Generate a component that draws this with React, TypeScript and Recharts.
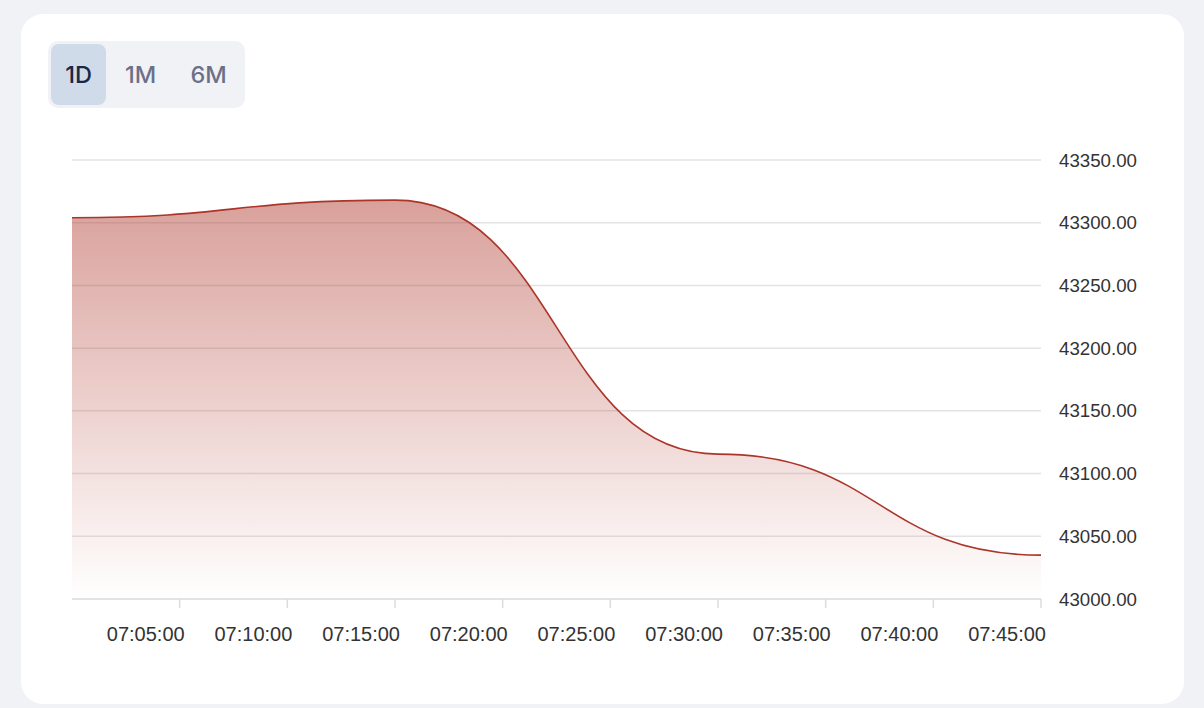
import { Area, AreaChart, CartesianGrid, XAxis, YAxis } from "recharts";

// minutes after 07:00
const times = [0, 15, 30, 45];
const prices = [43304, 43318, 43115.5, 43035];

const xTicks = [5, 10, 15, 20, 25, 30, 35, 40, 45];
const yTicks = [43000, 43050, 43100, 43150, 43200, 43250, 43300, 43350];

const ranges = ["1D", "1M", "6M"];

const data = times.map((t, i) => ({ t, price: prices[i] }));

const fmtTime = (m: number) => {
  const h = 7 + Math.floor(m / 60);
  const mm = m % 60;
  return `${String(h).padStart(2, "0")}:${String(mm).padStart(2, "0")}:00`;
};

export default function App() {
  return (
    <div
      style={{
        position: "absolute",
        left: 0,
        top: 0,
        width: 1204,
        height: 708,
        background: "#f1f2f6",
        overflow: "hidden",
      }}
    >
      <div
        style={{
          position: "absolute",
          left: 21,
          top: 14,
          width: 1163,
          height: 690,
          background: "#fff",
          borderRadius: 22,
        }}
      >
        <div
          style={{
            position: "absolute",
            left: 27,
            top: 27,
            display: "flex",
            padding: 3,
            background: "#f1f2f6",
            borderRadius: 10,
            fontFamily: "Inter, sans-serif",
            fontSize: 23.5,
            fontWeight: 500,
          }}
        >
          {ranges.map((r, i) => (
            <div
              key={r}
              style={{
                width: i === 0 ? 55 : i === 1 ? 69 : 67,
                height: 61,
                lineHeight: "61px",
                textAlign: "center",
                borderRadius: 8,
                background: i === 0 ? "#cfdbe8" : "transparent",
                color: i === 0 ? "#1b2747" : "#6b7088",
              }}
            >
              {r}
            </div>
          ))}
        </div>

        <div style={{ position: "absolute", left: 39, top: 126 }}>
          <AreaChart
            width={1120}
            height={540}
            data={data}
            margin={{ top: 20, right: 39, left: 12, bottom: 21 }}
          >
            <defs>
              <linearGradient id="priceFill" x1="0" y1="0" x2="0" y2="1">
                <stop offset="0%" stopColor="#b03a2e" stopOpacity={0.8} />
                <stop offset="100%" stopColor="#b03a2e" stopOpacity={0} />
              </linearGradient>
            </defs>
            <CartesianGrid vertical={false} stroke="#e3e3e6" strokeWidth={1.5} />
            <XAxis
              dataKey="t"
              type="number"
              domain={[0, 45]}
              ticks={xTicks}
              tickFormatter={fmtTime}
              height={60}
              axisLine={{ stroke: "#e0e0e3", strokeWidth: 1.5 }}
              tickLine={{ stroke: "#dcdcdf", strokeWidth: 1.5 }}
              tickSize={9}
              tickMargin={19}
              tick={{
                fill: "#333",
                fontSize: 20,
                fontFamily: "'Liberation Sans', Arial, sans-serif",
                textAnchor: "end",
                dx: 5,
              }}
              interval={0}
            />
            <YAxis
              orientation="right"
              domain={[43000, 43350]}
              ticks={yTicks}
              tickFormatter={(v: number) => v.toFixed(2)}
              width={100}
              axisLine={false}
              tickLine={false}
              tickMargin={12}
              tick={{ fill: "#333", fontSize: 18.7, fontFamily: "'Liberation Sans', Arial, sans-serif" }}
              interval={0}
            />
            <Area
              type="bumpX"
              dataKey="price"
              stroke="#ab3529"
              strokeWidth={1.6}
              fill="url(#priceFill)"
              baseValue={43000}
              isAnimationActive={false}
              dot={false}
              activeDot={false}
            />
          </AreaChart>
        </div>
      </div>
    </div>
  );
}
